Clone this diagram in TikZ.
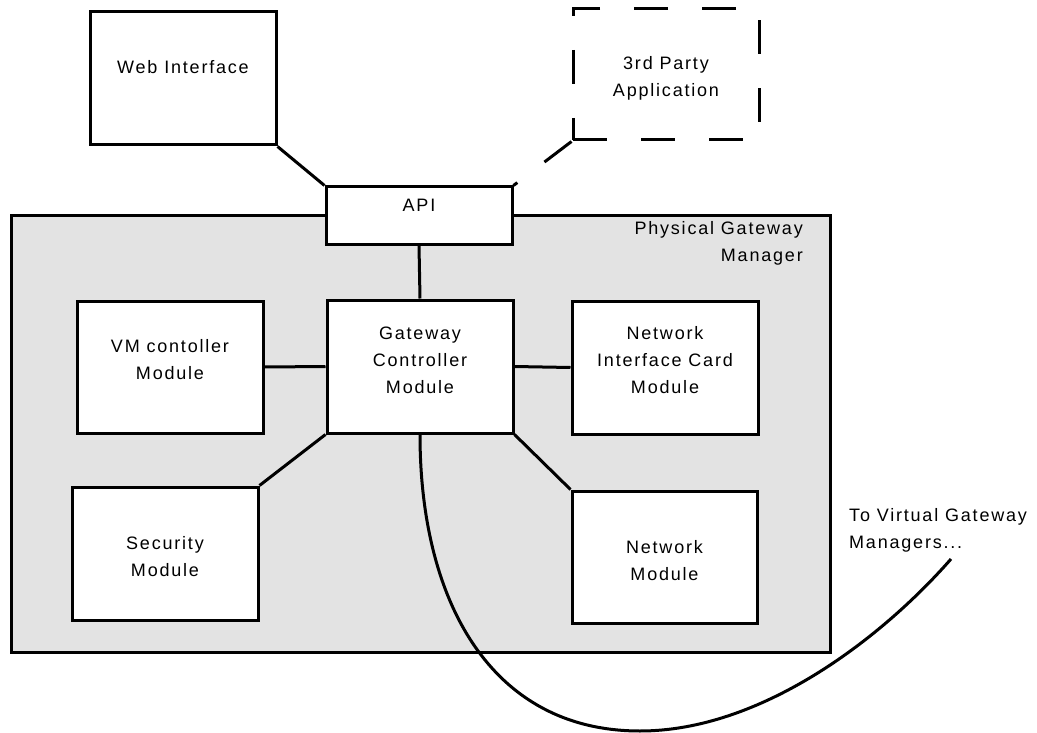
\documentclass[tikz,border=0pt]{standalone}
\usepackage{fontspec}
\setmainfont{Liberation Sans}[LetterSpace=10]
\usetikzlibrary{calc}
\definecolor{panelgray}{RGB}{227,227,227}
\begin{document}
\begin{tikzpicture}[x=1pt,y=-1pt,
  txt/.style={inner sep=0pt, align=center, font=\fontsize{18}{27}\selectfont},
  box/.style={draw, line width=3pt, fill=white, inner sep=0pt},
  panel/.style={draw, line width=3pt, fill=panelgray, inner sep=0pt},
  ext/.style={draw, line width=3pt, dash pattern=on 34pt off 34pt, inner sep=0pt},
  link/.style={line width=3pt},
  extlink/.style={line width=3pt, dash pattern=on 34pt off 34pt}]
\useasboundingbox (0,0) rectangle (1037,733);

% outer components
\node[box, minimum width=186pt, minimum height=133pt] (web) at (183,78.5) {};
\node[txt] (webtxt) at (183,67) {Web Interface};
\node[ext, minimum width=186pt, minimum height=131pt] (third) at (666,74.5) {};
\node[txt] (thirdtxt) at (666,78) {3rd Party\\Application};

% physical gateway manager panel
\node[panel, minimum width=819pt, minimum height=436pt] (pgm) at (420.5,434) {};
\node[txt, align=right, anchor=east] (pgmtxt) at (803,243) {Physical Gateway\\Manager};

% modules
\node[box, minimum width=186pt, minimum height=57pt] (api) at (419,215.5) {};
\node[txt] (apitxt) at (419,205) {API};
\node[box, minimum width=186pt, minimum height=133pt] (gc) at (420,366.5) {};
\node[txt] (gctxt) at (420,360) {Gateway\\Controller\\Module};
\node[box, minimum width=186pt, minimum height=132pt] (vm) at (170,367) {};
\node[txt] (vmtxt) at (170,360) {VM contoller\\Module};
\node[box, minimum width=186pt, minimum height=133pt] (nic) at (665,367.5) {};
\node[txt] (nictxt) at (665,360) {Network\\Interface Card\\Module};
\node[box, minimum width=186pt, minimum height=133pt] (sec) at (165,553.5) {};
\node[txt] (sectxt) at (165,557) {Security\\Module};
\node[box, minimum width=185pt, minimum height=132pt] (nm) at (664.5,557) {};
\node[txt] (nmtxt) at (664.5,561) {Network\\Module};

% note beside the panel
\node[txt, align=left, anchor=west] (vgmtxt) at (849,530) {To Virtual Gateway\\Managers...};
\coordinate (vgm) at (951,559);

% connectors
\draw[link] (web.south east) -- (api.north west);
\draw[extlink] (third.south west) -- (api.north east);
\draw[link] (api.south) -- (gc.north);
\draw[link] (vm.east) -- (gc.west);
\draw[link] (gc.east) -- (nic.west);
\draw[link] (gc.south west) -- (sec.north east);
\draw[link] (gc.south east) -- (nm.north west);
\draw[link] (gc.south) .. controls (420,600) and (490,731) .. (640,731)
  .. controls (760,731) and (880,640) .. (vgm);
\end{tikzpicture}
\end{document}
